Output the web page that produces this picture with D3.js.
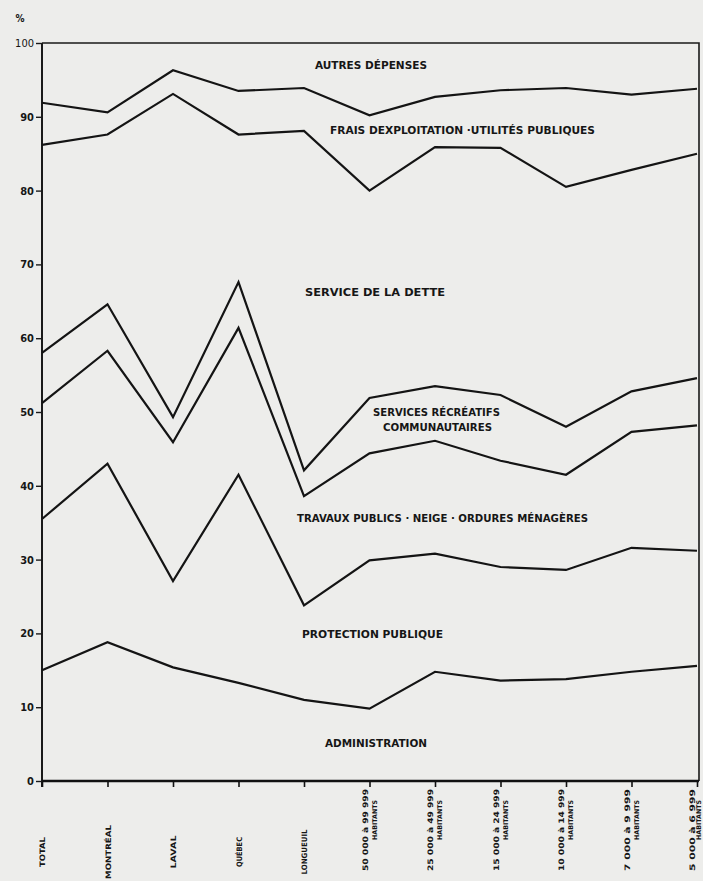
<!DOCTYPE html>
<html>
<head>
<meta charset="utf-8">
<script src="https://cdn.jsdelivr.net/npm/d3@7"></script>
<style>
  html, body { margin: 0; padding: 0; background: #ededeb; }
  svg { display: block; }
  text { font-family: "Liberation Sans Narrow", "DejaVu Sans Condensed", "Liberation Sans", sans-serif; font-weight: bold; fill: #161616; }
</style>
</head>
<body>
<script>
'use strict';

// categories along the bottom (two-line ones split on '|')
var categories = ['TOTAL', 'MONTRÉAL', 'LAVAL', 'QUÉBEC', 'LONGUEUIL',
  '50 000 à 99 999|HABITANTS', '25 000 à 49 999|HABITANTS', '15 000 à 24 999|HABITANTS',
  '10 000 à 14 999|HABITANTS', '7 000 à 9 999|HABITANTS', '5 000 à 6 999|HABITANTS'];

// cumulative percentages (top edge of each band)
var cumAdministration = [15.0, 18.8, 15.4, 13.3, 11.0, 9.8, 14.8, 13.6, 13.8, 14.8, 15.6];
var cumProtection     = [35.5, 43.0, 27.1, 41.5, 23.8, 29.9, 30.8, 29.0, 28.6, 31.6, 31.2];
var cumTravaux        = [51.2, 58.3, 45.9, 61.4, 38.6, 44.4, 46.1, 43.4, 41.5, 47.3, 48.2];
var cumRecreatifs     = [58.0, 64.6, 49.3, 67.6, 42.1, 51.9, 53.5, 52.3, 48.0, 52.8, 54.6];
var cumDette          = [86.2, 87.6, 93.1, 87.6, 88.1, 80.0, 85.9, 85.8, 80.5, 82.8, 85.0];
var cumFrais          = [91.9, 90.6, 96.3, 93.5, 93.9, 90.2, 92.7, 93.6, 93.9, 93.0, 93.8];

var yTicks = [0, 10, 20, 30, 40, 50, 60, 70, 80, 90, 100];

var bandNames = ['AUTRES DÉPENSES', 'FRAIS DEXPLOITATION ·UTILITÉS PUBLIQUES', 'SERVICE DE LA DETTE',
  'SERVICES RÉCRÉATIFS|COMMUNAUTAIRES', 'TRAVAUX PUBLICS · NEIGE · ORDURES MÉNAGÈRES',
  'PROTECTION PUBLIQUE', 'ADMINISTRATION'];

// label placement: [left px, value at baseline, width px]
var bandLabelPos = [[315, 96.5, 112], [330, 87.7, 265], [305, 65.7, 140], [373, 49.5, 127],
  [297, 35.1, 291], [302, 19.4, 141], [325, 4.6, 102]];

// printed length of the rotated category labels (px)
var catLabelLen = [30, 54, 33, 30, 45];

var W = 703, H = 881;
var svg = d3.select('body').append('svg').attr('width', W).attr('height', H);

var x = d3.scalePoint().domain(categories).range([42, 697]);
var y = d3.scaleLinear().domain([0, 100]).range([781, 43]);

// frame: top at 100 and right edge
svg.append('path')
  .attr('d', 'M' + x.range()[0] + ',' + y(100) + 'H' + (x.range()[1] + 2) + 'V' + y(0))
  .attr('fill', 'none').attr('stroke', '#1a1a1a').attr('stroke-width', 1.6);

// y axis
var yAxis = svg.append('g').attr('transform', 'translate(' + x.range()[0] + ',0)')
  .call(d3.axisLeft(y).tickValues(yTicks).tickSize(6).tickPadding(2).tickFormat(d3.format('d')));
yAxis.attr('font-family', null);
yAxis.select('.domain').attr('stroke', '#1a1a1a').attr('stroke-width', 2)
  .attr('d', 'M0,' + y(100) + 'V' + (y(0) + 6));
yAxis.selectAll('.tick line').attr('stroke', '#1a1a1a').attr('stroke-width', 1.4);
yAxis.selectAll('.tick text')
  .style('font-size', '11px')
  .attr('fill', function (d) { return d === 100 ? '#777' : '#1a1a1a'; })
  .style('font-weight', function (d) { return d === 100 ? 'normal' : 'bold'; });

svg.append('text').attr('x', 20).attr('y', 22).attr('text-anchor', 'middle')
  .style('font-size', '10px').text('%');

// x axis
var xAxis = svg.append('g').attr('transform', 'translate(0,' + y(0) + ')')
  .call(d3.axisBottom(x).tickSize(6).tickFormat(''));
xAxis.attr('font-family', null);
xAxis.select('.domain').attr('stroke', '#111').attr('stroke-width', 2.6)
  .attr('d', 'M' + x.range()[0] + ',0H' + (x.range()[1] + 2));
xAxis.selectAll('.tick line').attr('stroke', '#111').attr('stroke-width', 1.6);

// category labels, rotated
categories.forEach(function (c, i) {
  var parts = c.split('|');
  var cx = x(c);
  if (parts.length === 1) {
    svg.append('text')
      .attr('transform', 'translate(' + (cx + 3) + ',852) rotate(-90)')
      .attr('text-anchor', 'middle').style('font-size', '7.5px')
      .attr('textLength', catLabelLen[i]).attr('lengthAdjust', 'spacingAndGlyphs')
      .text(parts[0]);
  } else {
    svg.append('text')
      .attr('transform', 'translate(' + (cx - 2) + ',830) rotate(-90)')
      .attr('text-anchor', 'middle').style('font-size', '7.5px')
      .attr('textLength', 82).attr('lengthAdjust', 'spacingAndGlyphs')
      .text(parts[0]);
    svg.append('text')
      .attr('transform', 'translate(' + Math.min(cx + 7, W - 2) + ',820) rotate(-90)')
      .attr('text-anchor', 'middle').style('font-size', '6.5px')
      .attr('textLength', 40).attr('lengthAdjust', 'spacingAndGlyphs')
      .text(parts[1]);
  }
});

// band boundary lines
var line = d3.line()
  .x(function (d, i) { return x(categories[i]); })
  .y(function (d) { return y(d); });

[cumAdministration, cumProtection, cumTravaux, cumRecreatifs, cumDette, cumFrais].forEach(function (s) {
  svg.append('path').datum(s)
    .attr('d', line)
    .attr('fill', 'none').attr('stroke', '#141414').attr('stroke-width', 2.2)
    .attr('stroke-linejoin', 'miter');
});

// band names
bandNames.forEach(function (name, i) {
  var pos = bandLabelPos[i];
  var parts = name.split('|');
  parts.forEach(function (p, j) {
    var w = j === 0 ? pos[2] : 109;
    var left = j === 0 ? pos[0] : pos[0] + 10;
    svg.append('text')
      .attr('x', left).attr('y', y(pos[1]) + 15 * j)
      .attr('textLength', w).attr('lengthAdjust', 'spacingAndGlyphs')
      .style('font-size', '11px')
      .text(p);
  });
});
</script>
</body>
</html>
